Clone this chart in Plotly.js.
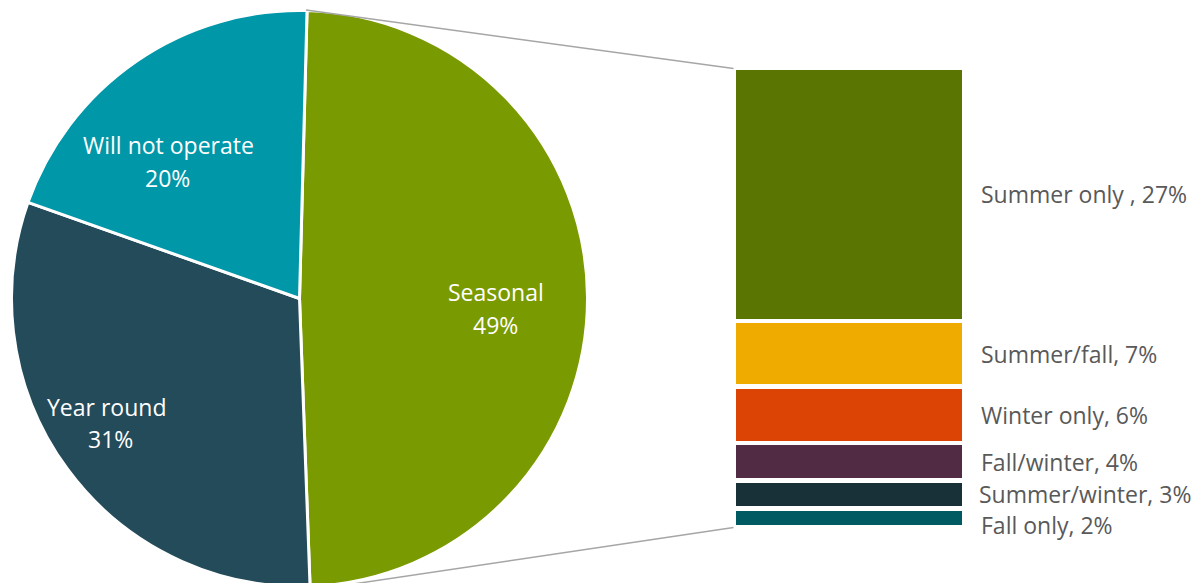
<!DOCTYPE html>
<html>
<head>
<meta charset="utf-8">
<script src="https://cdn.plot.ly/plotly-3.0.1.min.js"></script>
<style>
html, body { margin: 0; padding: 0; overflow: hidden; background: #ffffff; }
#chart { width: 1199px; height: 587px; }
</style>
</head>
<body>
<div id="chart"></div>
<script>
// ---- data ----
var pieLabels = ['Seasonal', 'Year round', 'Will not operate'];
var pieValues = [49, 31, 20];
var pieColors = ['#7a9a01', '#244b5a', '#0097a9'];

var barLabels = ['Summer only ', 'Summer/fall', 'Winter only', 'Fall/winter', 'Summer/winter', 'Fall only'];
var barValues = [27, 7, 6, 4, 3, 2];
var barColors = ['#5b7502', '#f0ab00', '#dc4405', '#512a44', '#183038', '#005a62'];

// ---- layout constants (pixels) ----
var W = 1199, H = 587;
function px(x) { return x / W; }
function py(y) { return (H - y) / H; }

var FONT = 'Open Sans, Lato, sans-serif';
var FS = 23;

var traces = [];
traces.push({
  type: 'pie',
  labels: pieLabels,
  values: pieValues,
  sort: false,
  direction: 'clockwise',
  rotation: 1.5,
  marker: { colors: pieColors, line: { color: '#ffffff', width: 3 } },
  textinfo: 'none',
  domain: { x: [px(11.5), px(587.5)], y: [py(586.5), py(10.5)] },
  hoverinfo: 'none',
  showlegend: false
});

// stacked bar: bottom segment first
for (var i = barValues.length - 1; i >= 0; i--) {
  traces.push({
    type: 'bar',
    x: ['Seasonal'],
    y: [barValues[i]],
    name: barLabels[i],
    marker: { color: barColors[i], line: { color: '#ffffff', width: 4.5 } },
    hoverinfo: 'none',
    showlegend: false,
    xaxis: 'x', yaxis: 'y'
  });
}

var annotations = [];

// pie slice labels (name line and percent line), placed in pixel positions
var total = pieValues.reduce(function (a, b) { return a + b; }, 0);
var pieLabelPos = [
  { nx: 495.5, ny: 292, px: 495, py: 325 },
  { nx: 106, ny: 407, px: 110.5, py: 438.5 },
  { nx: 168.3, ny: 145, px: 168, py: 178 }
];
for (var p = 0; p < pieLabels.length; p++) {
  var pos = pieLabelPos[p];
  annotations.push({
    xref: 'paper', yref: 'paper', x: px(pos.nx), y: py(pos.ny),
    xanchor: 'center', yanchor: 'middle', showarrow: false,
    text: pieLabels[p],
    font: { family: FONT, size: FS, color: '#ffffff' }
  });
  annotations.push({
    xref: 'paper', yref: 'paper', x: px(pos.px), y: py(pos.py),
    xanchor: 'center', yanchor: 'middle', showarrow: false,
    text: Math.round(pieValues[p] / total * 100) + '%',
    font: { family: FONT, size: FS, color: '#ffffff' }
  });
}

// labels to the right of the bar
var cum = 0;
var centers = [];
for (var j = barValues.length - 1; j >= 0; j--) {
  centers[j] = cum + barValues[j] / 2;
  cum += barValues[j];
}
var yShifts = [0, 0, 0, 0, 0, -7];
var xShifts = [0, 0, 0, 0, -2, 0];
for (var k = 0; k < barValues.length; k++) {
  annotations.push({
    xref: 'paper', yref: 'y',
    x: px(979), y: centers[k],
    xanchor: 'left', yanchor: 'middle',
    text: barLabels[k] + ', ' + barValues[k] + '%',
    showarrow: false,
    yshift: yShifts[k], xshift: xShifts[k],
    font: { family: FONT, size: FS, color: '#595959' }
  });
}

var layout = {
  width: W, height: H,
  margin: { l: 0, r: 0, t: 0, b: 0, pad: 0 },
  paper_bgcolor: '#ffffff',
  plot_bgcolor: 'rgba(0,0,0,0)',
  barmode: 'stack',
  bargap: 0,
  hovermode: false,
  showlegend: false,
  xaxis: { domain: [px(733.75), px(964.25)], visible: false, fixedrange: true },
  yaxis: { domain: [py(527.25), py(67.75)], range: [0, 49], visible: false, fixedrange: true },
  shapes: [
    { type: 'line', xref: 'paper', yref: 'paper', x0: px(306), y0: py(10), x1: px(733.5), y1: py(68.5),
      line: { color: '#a6a6a6', width: 1.5 } },
    { type: 'line', xref: 'paper', yref: 'paper', x0: px(306), y0: py(591), x1: px(733.5), y1: py(527.5),
      line: { color: '#a6a6a6', width: 1.5 } }
  ],
  annotations: annotations
};

Plotly.newPlot('chart', traces, layout, { displayModeBar: false, staticPlot: true });
</script>
</body>
</html>
